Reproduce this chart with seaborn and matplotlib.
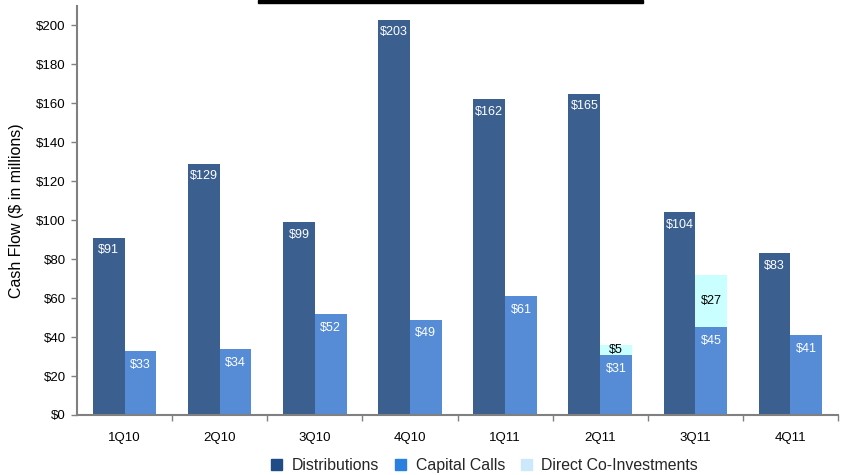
import matplotlib
matplotlib.use("Agg")
import matplotlib.pyplot as plt
import seaborn as sns
import pandas as pd
from matplotlib.patches import Patch, Rectangle
from matplotlib.ticker import FuncFormatter, MultipleLocator, FixedLocator

quarters = ["1Q10", "2Q10", "3Q10", "4Q10", "1Q11", "2Q11", "3Q11", "4Q11"]
distributions = [91, 129, 99, 203, 162, 165, 104, 83]
capital_calls = [33, 34, 52, 49, 61, 31, 45, 41]
direct_coinv = [0, 0, 0, 0, 0, 5, 27, 0]

c_dist = "#3B5F8F"
c_cap = "#558CD5"
c_dir = "#C9FFFF"
leg_dist = "#1F4B86"
leg_cap = "#2A80DE"
leg_dir = "#CCE9FB"

sns.set_theme(style="white")
plt.rcParams["font.family"] = ["Liberation Sans", "DejaVu Sans"]

fig = plt.figure(figsize=(8.43, 4.75), dpi=100)
ax = fig.add_axes([77 / 843, 1 - 415 / 475, (838 - 77) / 843, (415 - 6) / 475])

hue_order = ["Distributions", "Capital Calls"]
tot = [c + d for c, d in zip(capital_calls, direct_coinv)]
df_top = pd.DataFrame({
    "Quarter": quarters * 2,
    "Series": ["Distributions"] * len(quarters) + ["Capital Calls"] * len(quarters),
    "Value": distributions + tot,
})
df_base = pd.DataFrame({
    "Quarter": quarters * 2,
    "Series": ["Distributions"] * len(quarters) + ["Capital Calls"] * len(quarters),
    "Value": distributions + capital_calls,
})

sns.barplot(data=df_top, x="Quarter", y="Value", hue="Series", hue_order=hue_order,
            palette=[c_dist, c_dir], width=2 / 3, gap=0, ax=ax, legend=False,
            linewidth=0, saturation=1)
n_first = len(ax.patches)
sns.barplot(data=df_base, x="Quarter", y="Value", hue="Series", hue_order=hue_order,
            palette=[c_dist, c_cap], width=2 / 3, gap=0, ax=ax, legend=False,
            linewidth=0, saturation=1)

patches2 = ax.patches[n_first:]
dist_p = patches2[:len(quarters)]
cap_p = patches2[len(quarters):2 * len(quarters)]

fs = 9
for p, v in zip(dist_p, distributions):
    ax.annotate(f"${v}", (p.get_x() + p.get_width() / 2, v), xytext=(0, -9),
                textcoords="offset points", ha="center", va="center",
                color="white", fontsize=fs)
for p, v, d in zip(cap_p, capital_calls, direct_coinv):
    x = p.get_x() + p.get_width() / 2
    ax.annotate(f"${v}", (x, v), xytext=(0, -10),
                textcoords="offset points", ha="center", va="center",
                color="white", fontsize=fs)
    if d > 0:
        ax.text(x, v + d / 2, f"${d}", ha="center", va="center",
                color="black", fontsize=fs)

ax.set_ylim(0, 210)
ax.set_xlim(-0.5, len(quarters) - 0.5)
ax.yaxis.set_major_locator(MultipleLocator(20))
ax.yaxis.set_major_formatter(FuncFormatter(lambda v, _: f"${v:.0f}"))
ax.set_xlabel("")
ax.set_ylabel("Cash Flow ($ in millions)", fontsize=11.5, color="black", va="center")
ax.yaxis.set_label_coords(-0.079, 0.5)

for s in ["top", "right"]:
    ax.spines[s].set_visible(False)
for s in ["left", "bottom"]:
    ax.spines[s].set_color("#808080")
    ax.spines[s].set_linewidth(1.5)

ax.tick_params(axis="x", which="major", length=0, pad=12, labelsize=9.5, labelcolor="black")
ax.xaxis.set_minor_locator(FixedLocator([i + 0.5 for i in range(len(quarters))]))
ax.tick_params(axis="x", which="minor", bottom=True, length=4, width=1, color="#808080", direction="out")
ax.tick_params(axis="y", which="major", left=True, length=4, width=1, color="#808080",
               labelsize=9.5, labelcolor="black", pad=4)

handles = [Patch(color=leg_dist, label="Distributions"),
           Patch(color=leg_cap, label="Capital Calls"),
           Patch(color=leg_dir, label="Direct Co-Investments")]
fig.legend(handles=handles, loc="lower center", bbox_to_anchor=(0.575, -0.025), ncol=3,
           frameon=False, fontsize=11.4, handlelength=0.7, handleheight=0.7,
           handletextpad=0.6, columnspacing=1.0)

fig.patches.append(Rectangle((258 / 843, 1 - 3 / 475), (643 - 258) / 843, 3 / 475,
                             transform=fig.transFigure, color="black", zorder=5))

fig.savefig("out.png", dpi=100)
